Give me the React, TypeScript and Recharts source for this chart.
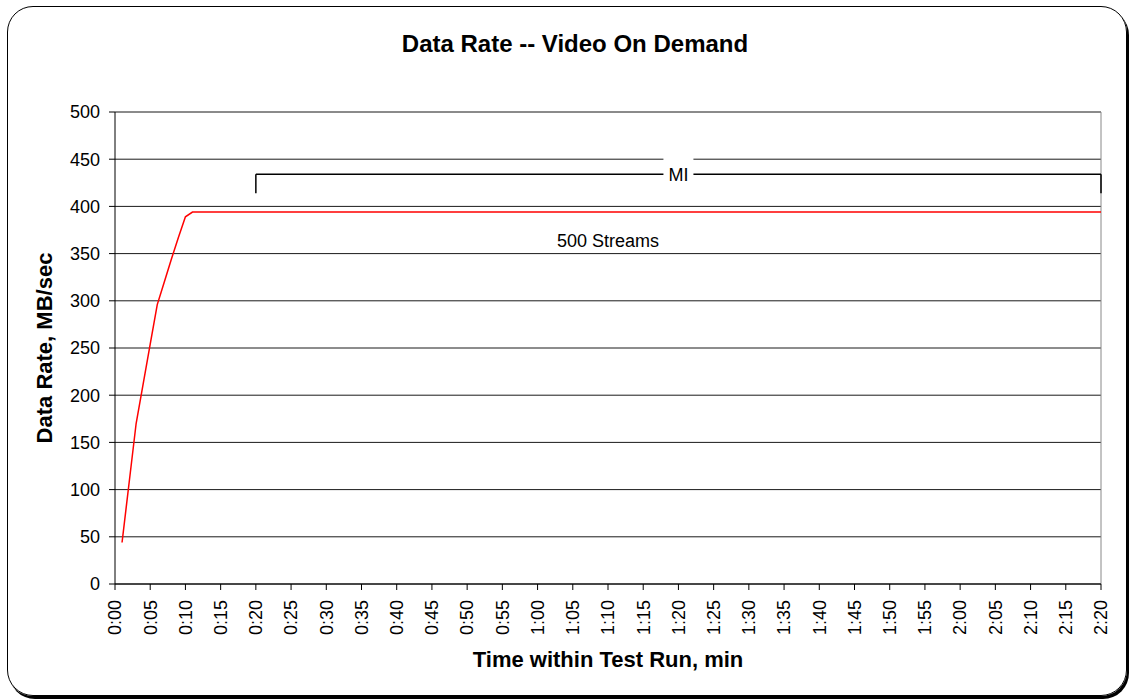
import React from 'react';
import { LineChart, Line, XAxis, YAxis, CartesianGrid, ReferenceLine, ReferenceDot } from 'recharts';

// minutes into the run and measured rate (MB/sec)
const minutes = [1, 2, 3, 4, 5, 6, 7, 8, 9, 10, 11, 20, 40, 60, 80, 100, 120, 140];
const rates = [44, 107, 170, 212, 254, 296, 320, 344, 367, 389, 394, 394, 394, 394, 394, 394, 394, 394];

const xTicks = [0, 5, 10, 15, 20, 25, 30, 35, 40, 45, 50, 55, 60, 65, 70, 75, 80, 85, 90, 95, 100, 105, 110, 115, 120, 125, 130, 135, 140];
const yTicks = [0, 50, 100, 150, 200, 250, 300, 350, 400, 450, 500];

// measurement interval bracket
const miStart = 20;
const miEnd = 140;
const miLevel = 434;
const miFoot = 414;
const miLabel = 'MI';

const streamsLabel = '500 Streams';
const streamsAt = { x: 70, y: 364 };

const data = minutes.map((m, i) => ({ t: m, rate: rates[i] }));

const font = 'Liberation Sans, Arial, sans-serif';

const fmtTime = (v: number) => `${Math.floor(v / 60)}:${String(v % 60).padStart(2, '0')}`;

const XTick = (props: any) => {
  const { x, y, payload } = props;
  return (
    <text
      x={x}
      y={y}
      transform={`rotate(-90 ${x} ${y})`}
      textAnchor="end"
      dy="0.35em"
      fontSize={18}
      fontFamily={font}
      fill="#000"
    >
      {fmtTime(payload.value)}
    </text>
  );
};

const MiBox = (props: any) => {
  const { cx, cy } = props;
  return (
    <g>
      <rect x={cx - 15} y={cy - 18} width={30} height={34} fill="#fff" />
      <text x={cx} y={cy} dy="0.35em" textAnchor="middle" fontSize={18} fontFamily={font} fill="#000">
        {miLabel}
      </text>
    </g>
  );
};

const StreamsText = (props: any) => {
  const { cx, cy } = props;
  return (
    <text x={cx} y={cy} dy="0.35em" textAnchor="middle" fontSize={18} fontFamily={font} fill="#000">
      {streamsLabel}
    </text>
  );
};

export default function App() {
  return (
    <div style={{ position: 'absolute', left: 0, top: 0, width: 1130, height: 700, background: '#fff', fontFamily: font }}>
      <div
        style={{
          position: 'absolute',
          left: 7,
          top: 6,
          width: 1118,
          height: 688,
          border: '1.5px solid #000',
          borderRadius: 26,
          boxShadow: '2px 3px 0 #000',
        }}
      />
      <div style={{ position: 'absolute', left: 0, width: 1150, top: 32, textAlign: 'center', fontSize: 24, lineHeight: '24px', fontWeight: 'bold' }}>
        Data Rate -- Video On Demand
      </div>
      <div style={{ position: 'absolute', left: 0, width: 1216, top: 649, textAlign: 'center', fontSize: 22, lineHeight: '22px', fontWeight: 'bold' }}>
        Time within Test Run, min
      </div>
      <div
        style={{
          position: 'absolute',
          left: 45 - 200,
          top: 348 - 11,
          width: 400,
          textAlign: 'center',
          fontSize: 22,
          lineHeight: '22px',
          fontWeight: 'bold',
          transform: 'rotate(-90deg)',
        }}
      >
        Data Rate, MB/sec
      </div>
      <div style={{ position: 'absolute', left: 0, top: 0 }}>
        <LineChart width={1130} height={700} data={data} margin={{ top: 112, right: 29, bottom: 30, left: 0 }}>
          <CartesianGrid horizontal vertical={false} stroke="#1a1a1a" strokeOpacity={1} />
          <XAxis
            dataKey="t"
            type="number"
            domain={[0, 140]}
            ticks={xTicks}
            interval={0}
            height={86}
            tick={<XTick />}
            tickSize={6}
            tickMargin={10}
            axisLine={{ stroke: '#000' }}
            tickLine={{ stroke: '#000' }}
          />
          <YAxis
            type="number"
            domain={[0, 500]}
            ticks={yTicks}
            interval={0}
            width={115}
            tickSize={6}
            tickMargin={9}
            tick={{ fontSize: 18, fontFamily: font, fill: '#000' }}
            axisLine={{ stroke: '#000' }}
            tickLine={{ stroke: '#000' }}
          />
          <ReferenceLine y={500} stroke="#888" />
          <ReferenceLine x={140} stroke="#888" />
          <ReferenceLine segment={[{ x: miStart, y: miLevel }, { x: miEnd, y: miLevel }]} stroke="#000" strokeWidth={1.5} />
          <ReferenceLine segment={[{ x: miStart, y: miFoot }, { x: miStart, y: miLevel }]} stroke="#000" strokeWidth={1.5} />
          <ReferenceLine segment={[{ x: miEnd, y: miFoot }, { x: miEnd, y: miLevel }]} stroke="#000" strokeWidth={1.5} />
          <ReferenceDot x={(miStart + miEnd) / 2} y={miLevel} r={0} shape={<MiBox />} />
          <ReferenceDot x={streamsAt.x} y={streamsAt.y} r={0} shape={<StreamsText />} />
          <Line type="linear" dataKey="rate" stroke="#ff0000" strokeWidth={1.5} dot={false} isAnimationActive={false} />
        </LineChart>
      </div>
    </div>
  );
}
